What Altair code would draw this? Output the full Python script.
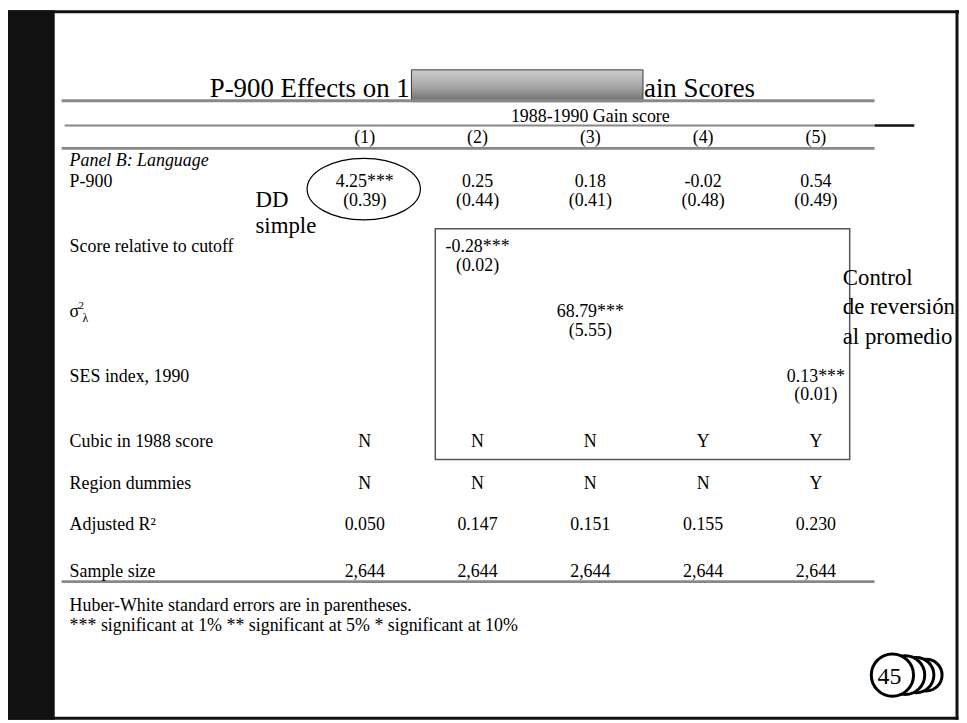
import altair as alt
import pandas as pd

# ---------------- data ----------------
title_left = "P-900 Effects on 1"
title_right = "ain Scores"
group_header = "1988-1990 Gain score"
columns = ["(1)", "(2)", "(3)", "(4)", "(5)"]
panel_label = "Panel B: Language"

row_p900 = ["4.25***", "0.25", "0.18", "-0.02", "0.54"]
row_p900_se = ["(0.39)", "(0.44)", "(0.41)", "(0.48)", "(0.49)"]
row_score = ["", "-0.28***", "", "", ""]
row_score_se = ["", "(0.02)", "", "", ""]
row_sigma = ["", "", "68.79***", "", ""]
row_sigma_se = ["", "", "(5.55)", "", ""]
row_ses = ["", "", "", "", "0.13***"]
row_ses_se = ["", "", "", "", "(0.01)"]
row_cubic = ["N", "N", "N", "Y", "Y"]
row_region = ["N", "N", "N", "N", "Y"]
row_r2 = ["0.050", "0.147", "0.151", "0.155", "0.230"]
row_n = ["2,644", "2,644", "2,644", "2,644", "2,644"]

row_labels = ["P-900", "Score relative to cutoff", "σ", "SES index, 1990",
              "Cubic in 1988 score", "Region dummies", "Adjusted R²", "Sample size"]
sigma_sup = "2"
sigma_sub = "λ"
footnotes = "Huber-White standard errors are in parentheses.\n*** significant at 1% ** significant at 5% * significant at 10%"
note_dd = "DD\nsimple"
note_control = "Control\nde reversión\nal promedio"
slide_number = "45"

# ---------------- layout (table line slots) ----------------
body_rows = [
    (0, row_p900), (2, row_p900_se),
    (7, row_score), (9, row_score_se),
    (14, row_sigma), (16, row_sigma_se),
    (21, row_ses), (23, row_ses_se),
    (28, row_cubic), (32.5, row_region), (37, row_r2), (42, row_n),
]
label_lines = [0, 7, 14, 21, 28, 32.5, 37, 42]

FONT = "Liberation Serif"
W, H = 957, 714
M = 8  # page margin


def p(v):
    return v - M


col_scale = alt.Scale(type="point", domain=columns, range=[p(367), p(821)], padding=0)
line_scale = alt.Scale(domain=[0, 42], range=[p(181), p(573)], nice=False, zero=False)

one = pd.DataFrame({"k": [0]})

cells = pd.DataFrame([
    {"col": c, "line": ln, "text": v}
    for ln, vals in body_rows for c, v in zip(columns, vals) if v
])
labels = pd.DataFrame({"line": label_lines, "text": row_labels})
heads = pd.DataFrame({"col": columns})


def txt(text, x, y, size=18, align="left", **kw):
    return alt.Chart(pd.DataFrame({"t": [text]})).mark_text(
        font=FONT, fontSize=size, align=align, baseline="middle", color="black",
        lineBreak="\n", **kw
    ).encode(x=alt.value(p(x)), y=alt.value(p(y)), text="t:N")


def rule(x1, x2, y, color="#888888", w=3):
    return alt.Chart(one).mark_rule(color=color, strokeWidth=w).encode(
        x=alt.value(p(x1)), x2=alt.value(p(x2)), y=alt.value(p(y)))


def block(x1, x2, y1, y2, color="#111111"):
    return alt.Chart(one).mark_rect(color=color).encode(
        x=alt.value(p(x1)), x2=alt.value(p(x2)), y=alt.value(p(y1)), y2=alt.value(p(y2)))


layers = []

# title + masking gradient box
layers.append(txt(title_left, 211, 87, size=27))
layers.append(txt(title_right, 648, 87, size=27))
layers.append(alt.Chart(one).mark_rect(
    fill=alt.LinearGradient(gradient="linear",
                            stops=[alt.GradientStop(offset=0, color="#cdcdcd"),
                                   alt.GradientStop(offset=0.5, color="#a9a9a9"),
                                   alt.GradientStop(offset=1, color="#6c6c6c")],
                            x1=0, x2=0, y1=0, y2=1),
    stroke="#3a3a3a", strokeWidth=1
).encode(x=alt.value(p(414)), x2=alt.value(p(647)), y=alt.value(p(68)), y2=alt.value(p(100))))

# table rules
layers.append(rule(62, 880, 99, w=3))
layers.append(rule(65, 880, 124, w=2))
layers.append(rule(880, 920, 124, color="#111111", w=2.5))
layers.append(rule(62, 880, 147, w=3))
layers.append(rule(62, 880, 583, w=3))

# headers
layers.append(txt(group_header, 594, 115, align="center"))
layers.append(alt.Chart(heads).mark_text(
    font=FONT, fontSize=18, align="center", baseline="middle", color="black"
).encode(x=alt.X("col:N", scale=col_scale, axis=None), y=alt.value(p(137)), text="col:N"))
layers.append(txt(panel_label, 70, 160, fontStyle="italic"))

# row labels
layers.append(alt.Chart(labels).mark_text(
    font=FONT, fontSize=18, align="left", baseline="middle", color="black"
).encode(x=alt.value(p(70)), y=alt.Y("line:Q", scale=line_scale, axis=None), text="text:N"))
sig = pd.DataFrame({"line": [14]})
layers.append(alt.Chart(sig).mark_text(
    font=FONT, fontSize=11, align="left", baseline="middle", color="black", dx=9, dy=-6
).encode(x=alt.value(p(70)), y=alt.Y("line:Q", scale=line_scale, axis=None), text=alt.value(sigma_sup)))
layers.append(alt.Chart(sig).mark_text(
    font=FONT, fontSize=12, align="left", baseline="middle", color="black", dx=13, dy=6
).encode(x=alt.value(p(70)), y=alt.Y("line:Q", scale=line_scale, axis=None), text=alt.value(sigma_sub)))

# cells
layers.append(alt.Chart(cells).mark_text(
    font=FONT, fontSize=18, align="center", baseline="middle", color="black"
).encode(x=alt.X("col:N", scale=col_scale, axis=None),
         y=alt.Y("line:Q", scale=line_scale, axis=None), text="text:N"))

# footnotes
layers.append(txt(footnotes, 70, 608, lineHeight=19.5))

# annotations
layers.append(alt.Chart(one).mark_point(
    shape="M-1,0A1,0.544,0,1,0,1,0A1,0.544,0,1,0,-1,0Z", filled=False,
    stroke="black", strokeWidth=1.2, size=114 * 114, opacity=1
).encode(x=alt.value(p(366)), y=alt.value(p(188))))
layers.append(txt(note_dd, 257, 198.5, size=23, lineHeight=27))
layers.append(alt.Chart(one).mark_rect(fillOpacity=0, stroke="#555555", strokeWidth=1.5).encode(
    x=alt.value(p(438)), x2=alt.value(p(855)), y=alt.value(p(228)), y2=alt.value(p(460))))
layers.append(txt(note_control, 848, 277.5, size=23, lineHeight=29.5))

# slide number coin stack
for cx, d in [(932, 36), (922, 40), (911, 44), (898, 48)]:
    layers.append(alt.Chart(one).mark_point(
        shape="circle", filled=True, fill="white", stroke="black", strokeWidth=3,
        size=3.14159 * (d / 2) ** 2, opacity=1, fillOpacity=1, strokeOpacity=1
    ).encode(x=alt.value(p(cx)), y=alt.value(p(677))))
layers.append(txt(slide_number, 895, 679, size=24, align="center"))

# slide frame
layers.append(block(7, 55, 8, 722))
layers.append(block(7, 965, 8, 11))
layers.append(block(961.5, 964.5, 8, 722))
layers.append(block(7, 964.5, 719, 722))

chart = alt.layer(*layers).resolve_scale(x="independent", y="independent").properties(
    width=W, height=H, padding=0, autosize=alt.AutoSizeParams(type="none"),
    background="white"
).configure_view(strokeWidth=0)

chart.save("out.html", embed_options={"renderer": "svg", "actions": False})
